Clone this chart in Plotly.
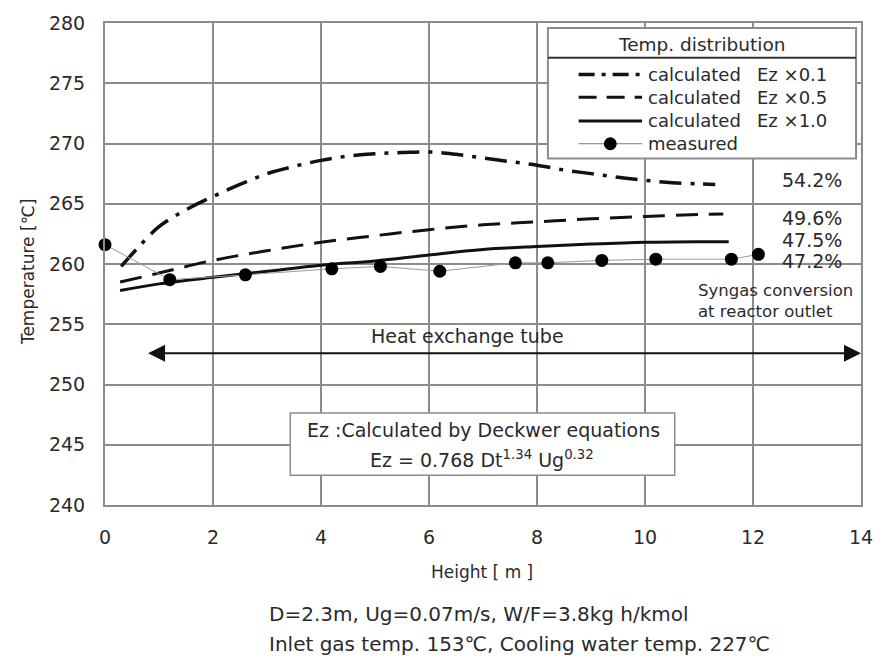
import plotly.graph_objects as go

# ---- data -------------------------------------------------------------
height_ez01 = [0.3, 0.6, 1.0, 1.5, 2.0, 2.5, 3.0, 3.5, 4.0, 4.5, 5.0, 5.5, 6.0,
               6.5, 7.0, 7.5, 8.0, 8.5, 9.0, 9.5, 10.0, 10.5, 11.0, 11.3]
temp_ez01 = [259.8, 261.3, 263.1, 264.5, 265.6, 266.6, 267.5, 268.1, 268.6, 268.95,
             269.15, 269.25, 269.3, 269.1, 268.8, 268.5, 268.2, 267.8, 267.5, 267.2,
             266.95, 266.75, 266.65, 266.6]

height_ez05 = [0.28, 1, 2, 3, 4, 5, 6, 7, 8, 9, 10, 11, 11.45]
temp_ez05 = [258.5, 259.25, 260.3, 261.1, 261.8, 262.35, 262.85, 263.25, 263.5,
             263.75, 263.95, 264.1, 264.15]

height_ez10 = [0.28, 1, 2, 3, 4, 5, 6, 7, 8, 9, 10, 11, 11.55]
temp_ez10 = [257.8, 258.35, 258.9, 259.4, 259.9, 260.25, 260.75, 261.2, 261.45,
             261.65, 261.8, 261.85, 261.85]

height_measured = [0.0, 1.2, 2.6, 4.2, 5.1, 6.2, 7.6, 8.2, 9.2, 10.2, 11.6, 12.1]
temp_measured = [261.6, 258.7, 259.1, 259.6, 259.8, 259.4, 260.1, 260.1, 260.3,
                 260.4, 260.4, 260.8]

conversion_labels = ["54.2%", "49.6%", "47.5%", "47.2%"]
conversion_temps = [266.95, 263.8, 262.0, 260.25]

legend_names = ["calculated", "calculated", "calculated", "measured"]
legend_factors = ["Ez \u00d70.1", "Ez \u00d70.5", "Ez \u00d71.0", ""]

x_ticks = list(range(0, 15, 2))
y_ticks = list(range(240, 281, 5))

# ---- layout geometry (pixels) ----------------------------------------
W, H = 885, 659
L, R, T, B = 105, 868, 18, 505
PW, PH = R - L, B - T


def px(xp):
    return (xp - L) / PW


def py(yp):
    return (B - yp) / PH


FONT = "DejaVu Sans"
TXT = "#2a2a2a"
INK = "#111111"
GRID = "#8c8c8c"

DASHDOT = "22px,9px,4px,9px"
DASHED = "22px,11px"

fig = go.Figure()

fig.add_trace(go.Scatter(x=height_ez01, y=temp_ez01, mode="lines",
                         line=dict(color=INK, width=3.5, dash=DASHDOT, shape="spline"),
                         showlegend=False))
fig.add_trace(go.Scatter(x=height_ez05, y=temp_ez05, mode="lines",
                         line=dict(color=INK, width=3, dash=DASHED, shape="spline"),
                         showlegend=False))
fig.add_trace(go.Scatter(x=height_ez10, y=temp_ez10, mode="lines",
                         line=dict(color=INK, width=3, shape="spline"),
                         showlegend=False))
fig.add_trace(go.Scatter(x=height_measured, y=temp_measured, mode="lines+markers",
                         line=dict(color="#9a9a9a", width=1),
                         marker=dict(size=13, color="black"),
                         cliponaxis=False, showlegend=False))

shapes = []
annotations = []

# legend frame
LX0, LX1, LY0, LY1 = 552, 863, 23, 155
shapes.append(dict(type="rect", xref="paper", yref="paper",
                   x0=px(LX0), x1=px(LX1), y0=py(LY1), y1=py(LY0),
                   line=dict(color="#8c8c8c", width=2), fillcolor="white", layer="above"))
shapes.append(dict(type="line", xref="paper", yref="paper",
                   x0=px(LX0), x1=px(LX1), y0=py(53), y1=py(53),
                   line=dict(color="#333333", width=2), layer="above"))
annotations.append(dict(text="Temp. distribution", xref="paper", yref="paper",
                        x=px((LX0 + LX1) / 2), y=py(40), showarrow=False,
                        xanchor="center", yanchor="middle",
                        font=dict(family=FONT, size=18.5, color=TXT)))

row_y = [70, 93, 117, 140]
styles = [dict(width=3.5, dash="16px,7px,4px,7px"), dict(width=3, dash="18px,10px"),
          dict(width=3, dash="solid"), None]
for yy, nm, fac, st in zip(row_y, legend_names, legend_factors, styles):
    if st is not None:
        shapes.append(dict(type="line", xref="paper", yref="paper",
                           x0=px(583), x1=px(647), y0=py(yy), y1=py(yy),
                           line=dict(color=INK, **st), layer="above"))
    else:
        shapes.append(dict(type="line", xref="paper", yref="paper",
                           x0=px(583), x1=px(647), y0=py(yy), y1=py(yy),
                           line=dict(color="#777777", width=1), layer="above"))
        shapes.append(dict(type="circle", xref="paper", yref="paper",
                           x0=px(608.5), x1=px(621.5), y0=py(yy + 6.5), y1=py(yy - 6.5),
                           line=dict(color="black", width=0), fillcolor="black", layer="above"))
    annotations.append(dict(text=nm, xref="paper", yref="paper", x=px(651), y=py(yy),
                            showarrow=False, xanchor="left", yanchor="middle",
                            font=dict(family=FONT, size=18, color=TXT)))
    if fac:
        annotations.append(dict(text=fac, xref="paper", yref="paper", x=px(761), y=py(yy),
                                showarrow=False, xanchor="left", yanchor="middle",
                                font=dict(family=FONT, size=18, color=TXT)))

# conversion labels at the reactor outlet
for lab, tv in zip(conversion_labels, conversion_temps):
    annotations.append(dict(text=lab, xref="x", yref="y", x=13.1, y=tv, showarrow=False,
                            xanchor="center", yanchor="middle",
                            font=dict(family=FONT, size=19, color=TXT)))
annotations.append(dict(text="Syngas conversion<br>at reactor outlet", xref="paper",
                        yref="paper", x=px(701), y=py(299), showarrow=False,
                        xanchor="left", yanchor="middle", align="left",
                        font=dict(family=FONT, size=16.5, color=TXT)))

# heat exchange tube span
annotations.append(dict(text="", xref="x", yref="y", x=14.0, y=252.6,
                        axref="x", ayref="y", ax=0.77, ay=252.6, showarrow=True,
                        arrowhead=2, startarrowhead=2, arrowside="end+start",
                        arrowsize=1.7, startarrowsize=1.7, arrowwidth=2,
                        arrowcolor=INK, standoff=0, startstandoff=0))
annotations.append(dict(text="Heat exchange tube", xref="x", yref="y", x=6.72, y=254.0,
                        showarrow=False, xanchor="center", yanchor="middle",
                        font=dict(family=FONT, size=19, color=TXT)))

# Deckwer correlation box
shapes.append(dict(type="rect", xref="paper", yref="paper",
                   x0=px(292), x1=px(680), y0=py(475), y1=py(412),
                   line=dict(color="#8c8c8c", width=1.5), fillcolor="white", layer="above"))
annotations.append(dict(text="Ez :Calculated by Deckwer equations", xref="paper",
                        yref="paper", x=px(487), y=py(429), showarrow=False,
                        xanchor="center", yanchor="middle",
                        font=dict(family=FONT, size=19, color=TXT)))
annotations.append(dict(text="Ez = 0.768 Dt<sup>1.34</sup> Ug<sup>0.32</sup>", xref="paper",
                        yref="paper", x=px(485), y=py(459), showarrow=False,
                        xanchor="center", yanchor="middle",
                        font=dict(family=FONT, size=19, color=TXT)))

# axis titles and operating conditions
annotations.append(dict(text="Temperature [\u2103]", xref="paper", yref="paper",
                        x=px(28), y=py(270), textangle=-90, showarrow=False,
                        xanchor="center", yanchor="middle",
                        font=dict(family=FONT, size=17, color=TXT)))
annotations.append(dict(text="Height [ m ]", xref="paper", yref="paper",
                        x=px(485), y=py(573), showarrow=False,
                        xanchor="center", yanchor="middle",
                        font=dict(family=FONT, size=17, color=TXT)))
annotations.append(dict(text="D=2.3m, Ug=0.07m/s, W/F=3.8kg h/kmol", xref="paper",
                        yref="paper", x=px(268), y=py(615), showarrow=False,
                        xanchor="left", yanchor="middle",
                        font=dict(family=FONT, size=20, color=TXT)))
annotations.append(dict(text="Inlet gas temp. 153\u2103, Cooling water temp. 227\u2103",
                        xref="paper", yref="paper", x=px(268), y=py(645), showarrow=False,
                        xanchor="left", yanchor="middle",
                        font=dict(family=FONT, size=20, color=TXT)))

axis_common = dict(showgrid=True, gridcolor=GRID, gridwidth=1.5, showline=True,
                   linecolor=GRID, linewidth=2, mirror=True, zeroline=False,
                   ticks="", tickfont=dict(family=FONT, size=19, color=TXT))

fig.update_layout(
    width=W, height=H,
    margin=dict(l=L, r=W - R, t=T, b=H - B, pad=0),
    paper_bgcolor="white", plot_bgcolor="white",
    xaxis=dict(range=[0, 14], tickvals=x_ticks, ticklabelstandoff=14, **axis_common),
    yaxis=dict(range=[240, 280], tickvals=y_ticks, ticklabelstandoff=14, **axis_common),
    shapes=shapes, annotations=annotations, showlegend=False,
)

fig.write_html("out.html")
